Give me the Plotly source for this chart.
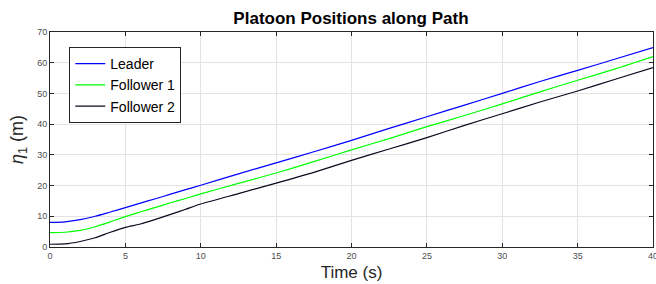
import plotly.graph_objects as go

t = [0, 1, 2, 3, 4, 5, 6, 7, 8, 9, 10, 12.5, 15, 17.5, 20, 22.5, 25, 27.5, 30, 32.5, 35, 37.5, 40]
leader = [8.0, 8.2, 8.9, 10.0, 11.4, 12.8, 14.3, 15.7, 17.2, 18.7, 20.1, 23.8, 27.4, 31.0, 34.7, 38.6, 42.4, 46.2, 50.0, 53.9, 57.5, 61.2, 64.9]
follower1 = [4.7, 4.8, 5.4, 6.6, 8.2, 9.9, 11.4, 12.9, 14.4, 15.8, 17.3, 20.7, 24.1, 27.8, 31.6, 35.3, 39.2, 42.8, 46.6, 50.5, 54.3, 58.0, 62.0]
follower2 = [0.9, 1.0, 1.8, 3.0, 4.8, 6.4, 7.5, 9.0, 10.6, 12.3, 14.0, 17.4, 20.8, 24.3, 28.2, 31.9, 35.6, 39.6, 43.4, 47.2, 50.8, 54.6, 58.4]

x_ticks = [0, 5, 10, 15, 20, 25, 30, 35, 40]
y_ticks = [0, 10, 20, 30, 40, 50, 60, 70]

FONT = "Liberation Sans, Arial, sans-serif"

fig = go.Figure()
for name, ys, col in [("Leader", leader, "#0000ff"),
                      ("Follower 1", follower1, "#00ff00"),
                      ("Follower 2", follower2, "#0a0a20")]:
    fig.add_trace(go.Scatter(x=t, y=ys, mode="lines", name=name,
                             line=dict(color=col, width=1.2, shape="spline", smoothing=0.6)))

axis_common = dict(showgrid=True, gridcolor="#e3e3e3", gridwidth=1,
                   showline=True, linecolor="#262626", linewidth=1,
                   mirror="ticks", ticks="inside", ticklen=4, tickcolor="#262626",
                   tickfont=dict(family=FONT, size=9, color="#4d4d4d"),
                   ticklabeloverflow="allow",
                   zeroline=False, automargin=False)

fig.update_layout(
    width=656, height=284,
    margin=dict(l=50, r=3, t=32, b=37),
    paper_bgcolor="white", plot_bgcolor="white",
    title=dict(text="<b>Platoon Positions along Path</b>", x=0.535, xanchor="center",
               y=0.935, yanchor="middle",
               font=dict(family=FONT, size=17, color="black")),
    xaxis=dict(range=[0, 40], tickvals=x_ticks,
               title=dict(text="Time (s)", standoff=6,
                          font=dict(family=FONT, size=17, color="#262626")),
               **axis_common),
    yaxis=dict(range=[0, 70], tickvals=y_ticks,
               title=dict(text="<i>η</i><sub>1</sub> (m)", standoff=8,
                          font=dict(family=FONT, size=18, color="#262626")),
               **axis_common),
    legend=dict(x=0.032, y=0.93, xanchor="left", yanchor="top",
                bgcolor="white", bordercolor="#262626", borderwidth=1,
                font=dict(family=FONT, size=14, color="black"),
                tracegroupgap=0, itemwidth=30),
    showlegend=True,
)

fig.write_html("out.html", config={"displayModeBar": False},
               post_script="document.body.style.margin='0';")
